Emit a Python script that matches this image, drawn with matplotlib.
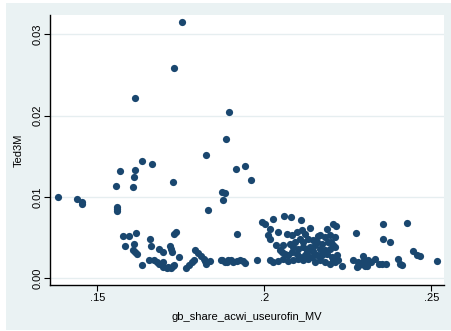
import matplotlib
matplotlib.use("Agg")
import matplotlib.pyplot as plt
from matplotlib.patches import Rectangle

# share of GB in ACWI (x) vs 3M TED spread (y)
gb_share = [
    0.1381, 0.1439, 0.1455, 0.1455, 0.1555, 0.1569, 0.1613, 0.1610, 0.1608, 0.1633,
    0.1663, 0.1726, 0.1559, 0.1560, 0.1559, 0.1613, 0.1754, 0.1729, 0.1895, 0.1885,
    0.1826, 0.1914, 0.1943, 0.1959, 0.1872, 0.1882, 0.1877, 0.1831,
    0.1577, 0.1596, 0.1616, 0.1583, 0.1610, 0.1608, 0.1614, 0.1619, 0.1635, 0.1654,
    0.1658, 0.1660, 0.1670, 0.1678, 0.1686, 0.1696, 0.1708, 0.1720, 0.1728, 0.1698,
    0.1686, 0.1698, 0.1718, 0.1722, 0.1724, 0.1730, 0.1736, 0.1746, 0.1766, 0.1775,
    0.1783, 0.1790, 0.1793, 0.1802, 0.1810, 0.1819, 0.1825, 0.1837, 0.1869, 0.1887,
    0.1919, 0.1713, 0.1731, 0.1822,
    0.1873, 0.1882, 0.1892, 0.1900, 0.1907, 0.1917, 0.1927, 0.1937, 0.1942,
    0.1979, 0.2017,
    0.1992, 0.2002, 0.2025, 0.2058, 0.2079, 0.2109, 0.2017, 0.2012, 0.2017, 0.2042,
    0.2067, 0.2082, 0.2097, 0.2112, 0.2122, 0.2107, 0.2117, 0.2034, 0.2057, 0.2077,
    0.2087, 0.2102, 0.2117, 0.2127, 0.2052, 0.2062, 0.2072, 0.2082, 0.2097, 0.2107,
    0.2122, 0.2127, 0.2027, 0.2042, 0.2057, 0.2072, 0.2087, 0.2102, 0.2117, 0.2132,
    0.2137, 0.2207, 0.2214, 0.2187, 0.2275, 0.2167, 0.2182, 0.2197, 0.2212, 0.2132,
    0.2147, 0.2157, 0.2172, 0.2192, 0.2207, 0.2137, 0.2152, 0.2167, 0.2182, 0.2197,
    0.2212, 0.2142, 0.2157, 0.2172, 0.2187, 0.2202, 0.2217, 0.2152, 0.2167, 0.2182,
    0.2197, 0.2212, 0.2222, 0.2232, 0.2266, 0.2281, 0.2292, 0.2281, 0.2297,
    0.2356, 0.2426, 0.2354, 0.2375, 0.2446, 0.2456, 0.2466, 0.2517, 0.2399, 0.2406,
    0.2412, 0.2331, 0.2344, 0.2353, 0.2364, 0.2295, 0.2307, 0.2307, 0.2311, 0.2277,
    0.2207, 0.2320, 0.2302, 0.2127, 0.2127,
    0.2047, 0.2092, 0.2145, 0.2175, 0.2160, 0.2200,
]
ted3m = [
    0.00999, 0.00978, 0.00941, 0.00909, 0.01138, 0.01318, 0.01330, 0.01248, 0.01122, 0.01441,
    0.01408, 0.01187, 0.00880, 0.00856, 0.00830, 0.02211, 0.03149, 0.02587, 0.02047, 0.01708,
    0.01511, 0.01339, 0.01380, 0.01208, 0.01064, 0.01052, 0.00958, 0.00839,
    0.00520, 0.00520, 0.00560, 0.00400, 0.00421, 0.00348, 0.00319, 0.00295, 0.00160, 0.00225,
    0.00486, 0.00397, 0.00225, 0.00197, 0.00172, 0.00143, 0.00130, 0.00123, 0.00151, 0.00204,
    0.00356, 0.00327, 0.00397, 0.00356, 0.00319, 0.00544, 0.00569, 0.00258, 0.00123, 0.00163,
    0.00204, 0.00225, 0.00348, 0.00307, 0.00274, 0.00237, 0.00176, 0.00216, 0.00225, 0.00204,
    0.00541, 0.00135, 0.00167, 0.00216,
    0.00225, 0.00200, 0.00225, 0.00231, 0.00204, 0.00213, 0.00225, 0.00213, 0.00184,
    0.00225, 0.00225,
    0.00692, 0.00671, 0.00725, 0.00765, 0.00757, 0.00713, 0.00609, 0.00528, 0.00486, 0.00569,
    0.00548, 0.00528, 0.00569, 0.00590, 0.00548, 0.00486, 0.00446, 0.00413, 0.00405, 0.00425,
    0.00385, 0.00364, 0.00385, 0.00364, 0.00323, 0.00302, 0.00283, 0.00323, 0.00302, 0.00262,
    0.00283, 0.00323, 0.00200, 0.00209, 0.00241, 0.00209, 0.00221, 0.00241, 0.00221, 0.00241,
    0.00618, 0.00671, 0.00643, 0.00609, 0.00560, 0.00528, 0.00507, 0.00528, 0.00507, 0.00486,
    0.00467, 0.00446, 0.00425, 0.00446, 0.00405, 0.00385, 0.00405, 0.00364, 0.00344, 0.00364,
    0.00385, 0.00262, 0.00290, 0.00283, 0.00302, 0.00262, 0.00283, 0.00200, 0.00221, 0.00200,
    0.00179, 0.00200, 0.00221, 0.00151, 0.00221, 0.00200, 0.00179, 0.00151, 0.00221,
    0.0067, 0.0068, 0.0048, 0.0044, 0.0033, 0.0029, 0.0027, 0.0021, 0.0024, 0.0018,
    0.0016, 0.0024, 0.0017, 0.0017, 0.0018, 0.0027, 0.0018, 0.0015, 0.0022, 0.0014,
    0.0023, 0.0020, 0.0015, 0.00364, 0.00283,
    0.0035, 0.0045, 0.0033, 0.0031, 0.0052, 0.0045,
]

x_ticks = [0.15, 0.2, 0.25]
x_ticklabels = [".15", ".2", ".25"]
y_ticks = [0.0, 0.01, 0.02, 0.03]
y_ticklabels = ["0.00", "0.01", "0.02", "0.03"]

plt.rcParams['font.family'] = ['Liberation Sans', 'DejaVu Sans']

bg = '#EAF2F3'
navy = '#1A476F'

fig = plt.figure(figsize=(4.52, 3.31), dpi=100)
fig.patch.set_facecolor('white')
fig.patches.append(Rectangle((6 / 452, 1 / 331), 446 / 452, 327 / 331,
                             transform=fig.transFigure, facecolor=bg,
                             edgecolor='none', zorder=-10))

ax = fig.add_axes([50.5 / 452, 1 - 285 / 331, (444 - 50.5) / 452, 270 / 331])
ax.set_facecolor('white')
ax.scatter(gb_share, ted3m, s=27, color=navy, linewidths=0, zorder=3)

ax.set_xlim(0.13599, 0.2538)
ax.set_ylim(-0.000823, 0.03235)
ax.set_xticks(x_ticks)
ax.set_xticklabels(x_ticklabels)
ax.set_yticks(y_ticks)
ax.set_yticklabels(y_ticklabels, rotation=90, va='center')

for y in y_ticks:
    ax.axhline(y, color='#E6EEF0', lw=1, zorder=1)

for s in ['top', 'right']:
    ax.spines[s].set_visible(False)
for s in ['left', 'bottom']:
    ax.spines[s].set_color('black')
    ax.spines[s].set_linewidth(1)

ax.tick_params(axis='both', length=4, width=0.8, color='black', labelsize=8,
               pad=2)
ax.set_xlabel("gb_share_acwi_useurofin_MV", fontsize=8, labelpad=6)
ax.set_ylabel("Ted3M", fontsize=8, labelpad=6)

fig.savefig("out.png", dpi=100, facecolor=fig.get_facecolor())
